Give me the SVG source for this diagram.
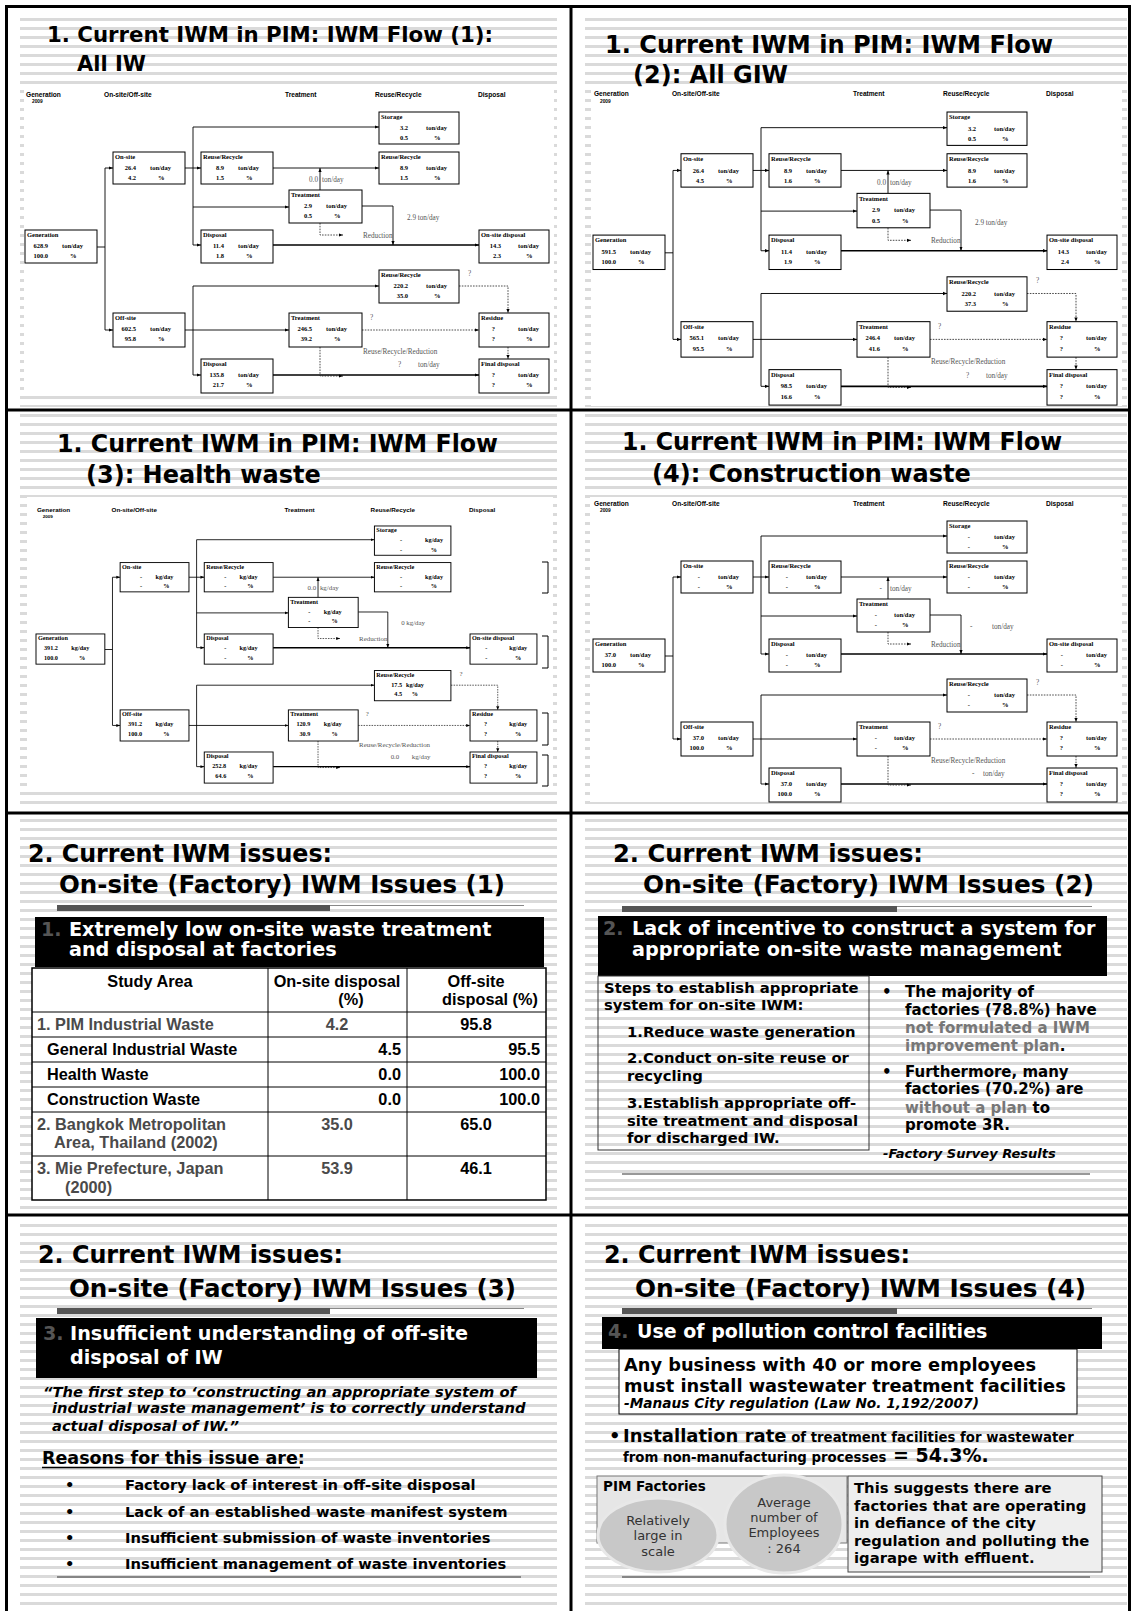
<svg xmlns="http://www.w3.org/2000/svg" width="1131" height="1611" viewBox="0 0 1131 1611">
<defs>
<pattern id="stripes" width="10" height="9" patternUnits="userSpaceOnUse"><rect width="10" height="9" fill="#fff"/><rect width="10" height="3" fill="#dadada"/></pattern>
<marker id="ah" viewBox="0 0 4 4" markerWidth="4" markerHeight="4" refX="4" refY="2" orient="auto" markerUnits="userSpaceOnUse"><path d="M0,0.4 L4,2 L0,3.6z" fill="#000"/></marker>
</defs>
<style>
.bx{fill:#fff;stroke:#000;stroke-width:1}
.c{fill:none;stroke:#000;stroke-width:0.9}
.ck{fill:none;stroke:#000;stroke-width:1.6}
.d{fill:none;stroke:#222;stroke-width:0.8;stroke-dasharray:1.6 1.2}
.a{marker-end:url(#ah)}
.bt{font-family:"Liberation Serif","Times New Roman",serif;font-weight:bold;font-size:6.5px;fill:#000}
.e{text-anchor:end}
.m{text-anchor:middle}
.fl{font-family:"Liberation Serif","Times New Roman",serif;font-size:7.2px;fill:#555}
.hd{font-family:"Liberation Sans",Arial,sans-serif;font-weight:bold;font-size:6.6px;fill:#000}
.yr{font-family:"Liberation Sans",Arial,sans-serif;font-weight:bold;font-size:4.8px}
.t{font-family:"DejaVu Sans",Verdana,sans-serif;font-weight:bold;fill:#000}
.ttl{font-size:24px}
.hb{font-size:19.2px;fill:#fff}
.hn{fill:#555}
.tb{font-family:"Liberation Sans",Arial,sans-serif;font-weight:bold;font-size:16.3px;fill:#000}
.g{fill:#4a4a4a}
.gr{fill:#777}
.it{font-style:italic}
.rg{font-family:"DejaVu Sans",Verdana,sans-serif;font-size:13px;fill:#333}
.bar{fill:#555}
.thin{stroke:#888;stroke-width:1;fill:none}
.bot{stroke:#333;stroke-width:1.2;fill:none}
.tl{fill:none;stroke:#000;stroke-width:1}
</style>
<rect width="1131" height="1611" fill="#fff"/>
<g id="backgrounds">
<rect x="20" y="12" width="537" height="395" fill="url(#stripes)"/>
<rect x="585" y="12" width="542" height="395" fill="url(#stripes)"/>
<rect x="20" y="414" width="537" height="396" fill="url(#stripes)"/>
<rect x="585" y="414" width="542" height="396" fill="url(#stripes)"/>
<rect x="20" y="817" width="537" height="395" fill="url(#stripes)"/>
<rect x="585" y="817" width="542" height="395" fill="url(#stripes)"/>
<rect x="20" y="1219" width="537" height="392" fill="url(#stripes)"/>
<rect x="585" y="1219" width="542" height="392" fill="url(#stripes)"/>
<rect x="24" y="86" width="530" height="309" fill="#fff"/>
<rect x="591" y="88" width="531" height="318" fill="#fff"/>
<rect x="27" y="497" width="526" height="290" fill="#fff"/>
<rect x="590" y="497" width="532" height="305" fill="#fff"/>
</g>

<!-- Slide 1 -->
<g id="slide1">
<text class="t" font-size="21" x="47" y="42" textLength="446" lengthAdjust="spacingAndGlyphs">1. Current IWM in PIM: IWM Flow (1):</text>
<text class="t" font-size="21" x="77" y="71">All IW</text>
<g id="s1-flow">
<text class="hd" x="26" y="97">Generation</text><text class="yr" x="32" y="103">2009</text>
<text class="hd" x="104" y="97">On-site/Off-site</text>
<text class="hd" x="285" y="97">Treatment</text>
<text class="hd" x="375" y="97">Reuse/Recycle</text>
<text class="hd" x="478" y="97">Disposal</text>
<g id="s1-connectors">
<path class="c" d="M97,247H105M105,168V330M193,127V245M193,286V375"/>
<path class="c a" d="M105,168H113"/><path class="c a" d="M105,330H113"/>
<path class="c a" d="M185,168H201"/><path class="c a" d="M193,127H379"/>
<path class="c a" d="M193,207H289"/><path class="c a" d="M193,245H201"/>
<path class="c a" d="M273,168H379"/><path class="c a" d="M320,190V168"/>
<path class="c a" d="M362,206H393V245"/><path class="d a" d="M320,223V235H343"/>
<path class="ck a" d="M273,245H479"/><path class="c a" d="M185,330H289"/>
<path class="c a" d="M193,286H379"/><path class="c a" d="M193,375H201"/>
<path class="ck a" d="M273,375H479"/><path class="d a" d="M459,286H508V313"/>
<path class="d a" d="M362,330H479"/><path class="d a" d="M508,347V359"/>
<path class="d a" d="M320,347V376H343"/>
<text class="fl e" x="318" y="182">0.0</text><text class="fl" x="322" y="182">ton/day</text>
<text class="fl" x="407" y="220">2.9 ton/day</text>
<text class="fl" x="363" y="238">Reduction</text>
<text class="fl" x="468" y="276">?</text>
<text class="fl" x="370" y="320">?</text>
<text class="fl" x="363" y="354">Reuse/Recycle/Reduction</text>
<text class="fl" x="398" y="367">?</text><text class="fl" x="418" y="367">ton/day</text>
</g>
<g id="s1-generation"><rect class="bx" x="25" y="230" width="72" height="33"/><text class="bt" x="27" y="237">Generation</text><text class="bt e" x="48" y="248">628.9</text><text class="bt" x="62" y="248">ton/day</text><text class="bt e" x="48" y="258">100.0</text><text class="bt" x="70" y="258">%</text></g>
<g id="s1-onsite"><rect class="bx" x="113" y="152" width="72" height="32"/><text class="bt" x="115" y="159">On-site</text><text class="bt e" x="136" y="170">26.4</text><text class="bt" x="150" y="170">ton/day</text><text class="bt e" x="136" y="180">4.2</text><text class="bt" x="158" y="180">%</text></g>
<g id="s1-offsite"><rect class="bx" x="113" y="313" width="72" height="34"/><text class="bt" x="115" y="320">Off-site</text><text class="bt e" x="136" y="331">602.5</text><text class="bt" x="150" y="331">ton/day</text><text class="bt e" x="136" y="341">95.8</text><text class="bt" x="158" y="341">%</text></g>
<g id="s1-reuse1"><rect class="bx" x="201" y="152" width="72" height="32"/><text class="bt" x="203" y="159">Reuse/Recycle</text><text class="bt e" x="224" y="170">8.9</text><text class="bt" x="238" y="170">ton/day</text><text class="bt e" x="224" y="180">1.5</text><text class="bt" x="246" y="180">%</text></g>
<g id="s1-disposal1"><rect class="bx" x="201" y="230" width="72" height="33"/><text class="bt" x="203" y="237">Disposal</text><text class="bt e" x="224" y="248">11.4</text><text class="bt" x="238" y="248">ton/day</text><text class="bt e" x="224" y="258">1.8</text><text class="bt" x="246" y="258">%</text></g>
<g id="s1-disposal2"><rect class="bx" x="201" y="359" width="72" height="34"/><text class="bt" x="203" y="366">Disposal</text><text class="bt e" x="224" y="377">135.8</text><text class="bt" x="238" y="377">ton/day</text><text class="bt e" x="224" y="387">21.7</text><text class="bt" x="246" y="387">%</text></g>
<g id="s1-storage"><rect class="bx" x="379" y="112" width="80" height="32"/><text class="bt" x="381" y="119">Storage</text><text class="bt e" x="408" y="130">3.2</text><text class="bt" x="426" y="130">ton/day</text><text class="bt e" x="408" y="140">0.5</text><text class="bt" x="434" y="140">%</text></g>
<g id="s1-reuse2"><rect class="bx" x="379" y="152" width="80" height="32"/><text class="bt" x="381" y="159">Reuse/Recycle</text><text class="bt e" x="408" y="170">8.9</text><text class="bt" x="426" y="170">ton/day</text><text class="bt e" x="408" y="180">1.5</text><text class="bt" x="434" y="180">%</text></g>
<g id="s1-reuse3"><rect class="bx" x="379" y="270" width="80" height="33"/><text class="bt" x="381" y="277">Reuse/Recycle</text><text class="bt e" x="408" y="288">220.2</text><text class="bt" x="426" y="288">ton/day</text><text class="bt e" x="408" y="298">35.0</text><text class="bt" x="434" y="298">%</text></g>
<g id="s1-treatment1"><rect class="bx" x="289" y="190" width="73" height="33"/><text class="bt" x="291" y="197">Treatment</text><text class="bt e" x="312" y="208">2.9</text><text class="bt" x="326" y="208">ton/day</text><text class="bt e" x="312" y="218">0.5</text><text class="bt" x="334" y="218">%</text></g>
<g id="s1-treatment2"><rect class="bx" x="289" y="313" width="73" height="34"/><text class="bt" x="291" y="320">Treatment</text><text class="bt e" x="312" y="331">246.5</text><text class="bt" x="326" y="331">ton/day</text><text class="bt e" x="312" y="341">39.2</text><text class="bt" x="334" y="341">%</text></g>
<g id="s1-onsitedisposal"><rect class="bx" x="479" y="230" width="70" height="33"/><text class="bt" x="481" y="237">On-site disposal</text><text class="bt e" x="501" y="248">14.3</text><text class="bt" x="518" y="248">ton/day</text><text class="bt e" x="501" y="258">2.3</text><text class="bt" x="526" y="258">%</text></g>
<g id="s1-residue"><rect class="bx" x="479" y="313" width="70" height="34"/><text class="bt" x="481" y="320">Residue</text><text class="bt e" x="495" y="331">?</text><text class="bt" x="518" y="331">ton/day</text><text class="bt e" x="495" y="341">?</text><text class="bt" x="526" y="341">%</text></g>
<g id="s1-final"><rect class="bx" x="479" y="359" width="70" height="34"/><text class="bt" x="481" y="366">Final disposal</text><text class="bt e" x="495" y="377">?</text><text class="bt" x="518" y="377">ton/day</text><text class="bt e" x="495" y="387">?</text><text class="bt" x="526" y="387">%</text></g>
</g>
</g>

<!-- Slide 2 -->
<g id="slide2">
<text class="t ttl" x="605" y="53" textLength="448" lengthAdjust="spacingAndGlyphs">1. Current IWM in PIM: IWM Flow</text>
<text class="t ttl" x="633" y="83">(2): All GIW</text>
<g id="s2-flow" transform="matrix(1,0,0,1.043,568,-4.8)">
<text class="hd" x="26" y="97">Generation</text><text class="yr" x="32" y="103">2009</text>
<text class="hd" x="104" y="97">On-site/Off-site</text>
<text class="hd" x="285" y="97">Treatment</text>
<text class="hd" x="375" y="97">Reuse/Recycle</text>
<text class="hd" x="478" y="97">Disposal</text>
<g id="s2-connectors">
<path class="c" d="M97,247H105M105,168V330M193,127V245M193,286V375"/>
<path class="c a" d="M105,168H113"/><path class="c a" d="M105,330H113"/>
<path class="c a" d="M185,168H201"/><path class="c a" d="M193,127H379"/>
<path class="c a" d="M193,207H289"/><path class="c a" d="M193,245H201"/>
<path class="c a" d="M273,168H379"/><path class="c a" d="M320,190V168"/>
<path class="c a" d="M362,206H393V245"/><path class="d a" d="M320,223V235H343"/>
<path class="ck a" d="M273,245H479"/><path class="c a" d="M185,330H289"/>
<path class="c a" d="M193,286H379"/><path class="c a" d="M193,375H201"/>
<path class="ck a" d="M273,375H479"/><path class="d a" d="M459,286H508V313"/>
<path class="d a" d="M362,330H479"/><path class="d a" d="M508,347V359"/>
<path class="d a" d="M320,347V376H343"/>
<text class="fl e" x="318" y="182">0.0</text><text class="fl" x="322" y="182">ton/day</text>
<text class="fl" x="407" y="220">2.9 ton/day</text>
<text class="fl" x="363" y="238">Reduction</text>
<text class="fl" x="468" y="276">?</text>
<text class="fl" x="370" y="320">?</text>
<text class="fl" x="363" y="354">Reuse/Recycle/Reduction</text>
<text class="fl" x="398" y="367">?</text><text class="fl" x="418" y="367">ton/day</text>
</g>
<g id="s2-generation"><rect class="bx" x="25" y="230" width="72" height="33"/><text class="bt" x="27" y="237">Generation</text><text class="bt e" x="48" y="248">591.5</text><text class="bt" x="62" y="248">ton/day</text><text class="bt e" x="48" y="258">100.0</text><text class="bt" x="70" y="258">%</text></g>
<g id="s2-onsite"><rect class="bx" x="113" y="152" width="72" height="32"/><text class="bt" x="115" y="159">On-site</text><text class="bt e" x="136" y="170">26.4</text><text class="bt" x="150" y="170">ton/day</text><text class="bt e" x="136" y="180">4.5</text><text class="bt" x="158" y="180">%</text></g>
<g id="s2-offsite"><rect class="bx" x="113" y="313" width="72" height="34"/><text class="bt" x="115" y="320">Off-site</text><text class="bt e" x="136" y="331">565.1</text><text class="bt" x="150" y="331">ton/day</text><text class="bt e" x="136" y="341">95.5</text><text class="bt" x="158" y="341">%</text></g>
<g id="s2-reuse1"><rect class="bx" x="201" y="152" width="72" height="32"/><text class="bt" x="203" y="159">Reuse/Recycle</text><text class="bt e" x="224" y="170">8.9</text><text class="bt" x="238" y="170">ton/day</text><text class="bt e" x="224" y="180">1.6</text><text class="bt" x="246" y="180">%</text></g>
<g id="s2-disposal1"><rect class="bx" x="201" y="230" width="72" height="33"/><text class="bt" x="203" y="237">Disposal</text><text class="bt e" x="224" y="248">11.4</text><text class="bt" x="238" y="248">ton/day</text><text class="bt e" x="224" y="258">1.9</text><text class="bt" x="246" y="258">%</text></g>
<g id="s2-disposal2"><rect class="bx" x="201" y="359" width="72" height="34"/><text class="bt" x="203" y="366">Disposal</text><text class="bt e" x="224" y="377">98.5</text><text class="bt" x="238" y="377">ton/day</text><text class="bt e" x="224" y="387">16.6</text><text class="bt" x="246" y="387">%</text></g>
<g id="s2-storage"><rect class="bx" x="379" y="112" width="80" height="32"/><text class="bt" x="381" y="119">Storage</text><text class="bt e" x="408" y="130">3.2</text><text class="bt" x="426" y="130">ton/day</text><text class="bt e" x="408" y="140">0.5</text><text class="bt" x="434" y="140">%</text></g>
<g id="s2-reuse2"><rect class="bx" x="379" y="152" width="80" height="32"/><text class="bt" x="381" y="159">Reuse/Recycle</text><text class="bt e" x="408" y="170">8.9</text><text class="bt" x="426" y="170">ton/day</text><text class="bt e" x="408" y="180">1.6</text><text class="bt" x="434" y="180">%</text></g>
<g id="s2-reuse3"><rect class="bx" x="379" y="270" width="80" height="33"/><text class="bt" x="381" y="277">Reuse/Recycle</text><text class="bt e" x="408" y="288">220.2</text><text class="bt" x="426" y="288">ton/day</text><text class="bt e" x="408" y="298">37.3</text><text class="bt" x="434" y="298">%</text></g>
<g id="s2-treatment1"><rect class="bx" x="289" y="190" width="73" height="33"/><text class="bt" x="291" y="197">Treatment</text><text class="bt e" x="312" y="208">2.9</text><text class="bt" x="326" y="208">ton/day</text><text class="bt e" x="312" y="218">0.5</text><text class="bt" x="334" y="218">%</text></g>
<g id="s2-treatment2"><rect class="bx" x="289" y="313" width="73" height="34"/><text class="bt" x="291" y="320">Treatment</text><text class="bt e" x="312" y="331">246.4</text><text class="bt" x="326" y="331">ton/day</text><text class="bt e" x="312" y="341">41.6</text><text class="bt" x="334" y="341">%</text></g>
<g id="s2-onsitedisposal"><rect class="bx" x="479" y="230" width="70" height="33"/><text class="bt" x="481" y="237">On-site disposal</text><text class="bt e" x="501" y="248">14.3</text><text class="bt" x="518" y="248">ton/day</text><text class="bt e" x="501" y="258">2.4</text><text class="bt" x="526" y="258">%</text></g>
<g id="s2-residue"><rect class="bx" x="479" y="313" width="70" height="34"/><text class="bt" x="481" y="320">Residue</text><text class="bt e" x="495" y="331">?</text><text class="bt" x="518" y="331">ton/day</text><text class="bt e" x="495" y="341">?</text><text class="bt" x="526" y="341">%</text></g>
<g id="s2-final"><rect class="bx" x="479" y="359" width="70" height="34"/><text class="bt" x="481" y="366">Final disposal</text><text class="bt e" x="495" y="377">?</text><text class="bt" x="518" y="377">ton/day</text><text class="bt e" x="495" y="387">?</text><text class="bt" x="526" y="387">%</text></g>
</g>
</g>

<!-- Slide 3 -->
<g id="slide3">
<text class="t ttl" x="57" y="452" textLength="441" lengthAdjust="spacingAndGlyphs">1. Current IWM in PIM: IWM Flow</text>
<text class="t ttl" x="86" y="483">(3): Health waste</text>
<g id="s3-flow" transform="matrix(0.956,0,0,0.915,12.1,423.5)">
<text class="hd" x="26" y="97">Generation</text><text class="yr" x="32" y="103">2009</text>
<text class="hd" x="104" y="97">On-site/Off-site</text>
<text class="hd" x="285" y="97">Treatment</text>
<text class="hd" x="375" y="97">Reuse/Recycle</text>
<text class="hd" x="478" y="97">Disposal</text>
<g id="s3-connectors">
<path class="c" d="M97,247H105M105,168V330M193,127V245M193,286V375"/>
<path class="c a" d="M105,168H113"/><path class="c a" d="M105,330H113"/>
<path class="c a" d="M185,168H201"/><path class="c a" d="M193,127H379"/>
<path class="c a" d="M193,207H289"/><path class="c a" d="M193,245H201"/>
<path class="c a" d="M273,168H379"/><path class="c a" d="M320,190V168"/>
<path class="c a" d="M362,206H393V245"/><path class="d a" d="M320,223V235H343"/>
<path class="ck a" d="M273,245H479"/><path class="c a" d="M185,330H289"/>
<path class="c a" d="M193,286H379"/><path class="c a" d="M193,375H201"/>
<path class="ck a" d="M273,375H479"/><path class="d a" d="M459,286H508V313"/>
<path class="d a" d="M362,330H479"/><path class="d a" d="M508,347V359"/>
<path class="d a" d="M320,347V376H343"/>
<text class="fl e" x="318" y="182">0.0</text><text class="fl" x="322" y="182">kg/day</text>
<text class="fl" x="407" y="220">0 kg/day</text>
<text class="fl" x="363" y="238">Reduction</text>
<text class="fl" x="468" y="276">?</text>
<text class="fl" x="370" y="320">?</text>
<text class="fl" x="363" y="354">Reuse/Recycle/Reduction</text>
<text class="fl" x="396" y="367">0.0</text><text class="fl" x="418" y="367">kg/day</text>
</g>
<g id="s3-generation"><rect class="bx" x="25" y="230" width="72" height="33"/><text class="bt" x="27" y="237">Generation</text><text class="bt e" x="48" y="248">391.2</text><text class="bt" x="62" y="248">kg/day</text><text class="bt e" x="48" y="258">100.0</text><text class="bt" x="70" y="258">%</text></g>
<g id="s3-onsite"><rect class="bx" x="113" y="152" width="72" height="32"/><text class="bt" x="115" y="159">On-site</text><text class="bt e" x="136" y="170">-</text><text class="bt" x="150" y="170">kg/day</text><text class="bt e" x="136" y="180">-</text><text class="bt" x="158" y="180">%</text></g>
<g id="s3-offsite"><rect class="bx" x="113" y="313" width="72" height="34"/><text class="bt" x="115" y="320">Off-site</text><text class="bt e" x="136" y="331">391.2</text><text class="bt" x="150" y="331">kg/day</text><text class="bt e" x="136" y="341">100.0</text><text class="bt" x="158" y="341">%</text></g>
<g id="s3-reuse1"><rect class="bx" x="201" y="152" width="72" height="32"/><text class="bt" x="203" y="159">Reuse/Recycle</text><text class="bt e" x="224" y="170">-</text><text class="bt" x="238" y="170">kg/day</text><text class="bt e" x="224" y="180">-</text><text class="bt" x="246" y="180">%</text></g>
<g id="s3-disposal1"><rect class="bx" x="201" y="230" width="72" height="33"/><text class="bt" x="203" y="237">Disposal</text><text class="bt e" x="224" y="248">-</text><text class="bt" x="238" y="248">kg/day</text><text class="bt e" x="224" y="258">-</text><text class="bt" x="246" y="258">%</text></g>
<g id="s3-disposal2"><rect class="bx" x="201" y="359" width="72" height="34"/><text class="bt" x="203" y="366">Disposal</text><text class="bt e" x="224" y="377">252.8</text><text class="bt" x="238" y="377">kg/day</text><text class="bt e" x="224" y="387">64.6</text><text class="bt" x="246" y="387">%</text></g>
<g id="s3-storage"><rect class="bx" x="379" y="112" width="80" height="32"/><text class="bt" x="381" y="119">Storage</text><text class="bt e" x="408" y="130">-</text><text class="bt" x="432" y="130">kg/day</text><text class="bt e" x="408" y="140">-</text><text class="bt" x="438" y="140">%</text></g>
<g id="s3-reuse2"><rect class="bx" x="379" y="152" width="80" height="32"/><text class="bt" x="381" y="159">Reuse/Recycle</text><text class="bt e" x="408" y="170">-</text><text class="bt" x="432" y="170">kg/day</text><text class="bt e" x="408" y="180">-</text><text class="bt" x="438" y="180">%</text></g>
<g id="s3-reuse3"><rect class="bx" x="379" y="270" width="80" height="33"/><text class="bt" x="381" y="277">Reuse/Recycle</text><text class="bt e" x="408" y="288">17.5</text><text class="bt" x="412" y="288">kg/day</text><text class="bt e" x="408" y="298">4.5</text><text class="bt" x="418" y="298">%</text></g>
<g id="s3-treatment1"><rect class="bx" x="289" y="190" width="73" height="33"/><text class="bt" x="291" y="197">Treatment</text><text class="bt e" x="312" y="208">-</text><text class="bt" x="326" y="208">kg/day</text><text class="bt e" x="312" y="218">-</text><text class="bt" x="334" y="218">%</text></g>
<g id="s3-treatment2"><rect class="bx" x="289" y="313" width="73" height="34"/><text class="bt" x="291" y="320">Treatment</text><text class="bt e" x="312" y="331">120.9</text><text class="bt" x="326" y="331">kg/day</text><text class="bt e" x="312" y="341">30.9</text><text class="bt" x="334" y="341">%</text></g>
<g id="s3-onsitedisposal"><rect class="bx" x="479" y="230" width="70" height="33"/><text class="bt" x="481" y="237">On-site disposal</text><text class="bt e" x="497" y="248">-</text><text class="bt" x="520" y="248">kg/day</text><text class="bt e" x="497" y="258">-</text><text class="bt" x="526" y="258">%</text></g>
<g id="s3-residue"><rect class="bx" x="479" y="313" width="70" height="34"/><text class="bt" x="481" y="320">Residue</text><text class="bt e" x="497" y="331">?</text><text class="bt" x="520" y="331">kg/day</text><text class="bt e" x="497" y="341">?</text><text class="bt" x="526" y="341">%</text></g>
<g id="s3-final"><rect class="bx" x="479" y="359" width="70" height="34"/><text class="bt" x="481" y="366">Final disposal</text><text class="bt e" x="497" y="377">?</text><text class="bt" x="520" y="377">kg/day</text><text class="bt e" x="497" y="387">?</text><text class="bt" x="526" y="387">%</text></g>
</g>
<path class="tl" d="M542,562H548V593H542M542,636H548V668H542M542,713H548V745H542M542,755H548V786H542"/>
</g>

<!-- Slide 4 -->
<g id="slide4">
<text class="t ttl" x="622" y="450" textLength="440" lengthAdjust="spacingAndGlyphs">1. Current IWM in PIM: IWM Flow</text>
<text class="t ttl" x="652" y="482">(4): Construction waste</text>
<g id="s4-flow" transform="translate(568,409)">
<text class="hd" x="26" y="97">Generation</text><text class="yr" x="32" y="103">2009</text>
<text class="hd" x="104" y="97">On-site/Off-site</text>
<text class="hd" x="285" y="97">Treatment</text>
<text class="hd" x="375" y="97">Reuse/Recycle</text>
<text class="hd" x="478" y="97">Disposal</text>
<g id="s4-connectors">
<path class="c" d="M97,247H105M105,168V330M193,127V245M193,286V375"/>
<path class="c a" d="M105,168H113"/><path class="c a" d="M105,330H113"/>
<path class="c a" d="M185,168H201"/><path class="c a" d="M193,127H379"/>
<path class="c a" d="M193,207H289"/><path class="c a" d="M193,245H201"/>
<path class="c a" d="M273,168H379"/><path class="c a" d="M320,190V168"/>
<path class="c a" d="M362,206H393V245"/><path class="d a" d="M320,223V235H343"/>
<path class="ck a" d="M273,245H479"/><path class="c a" d="M185,330H289"/>
<path class="c a" d="M193,286H379"/><path class="c a" d="M193,375H201"/>
<path class="ck a" d="M273,375H479"/><path class="d a" d="M459,286H508V313"/>
<path class="d a" d="M362,330H479"/><path class="d a" d="M508,347V359"/>
<path class="d a" d="M320,347V376H343"/>
<text class="fl e" x="314" y="182">-</text><text class="fl" x="322" y="182">ton/day</text>
<text class="fl" x="402" y="220">-</text><text class="fl" x="424" y="220">ton/day</text>
<text class="fl" x="363" y="238">Reduction</text>
<text class="fl" x="468" y="276">?</text>
<text class="fl" x="370" y="320">?</text>
<text class="fl" x="363" y="354">Reuse/Recycle/Reduction</text>
<text class="fl" x="404" y="367">-</text><text class="fl" x="415" y="367">ton/day</text>
</g>
<g id="s4-generation"><rect class="bx" x="25" y="230" width="72" height="33"/><text class="bt" x="27" y="237">Generation</text><text class="bt e" x="48" y="248">37.0</text><text class="bt" x="62" y="248">ton/day</text><text class="bt e" x="48" y="258">100.0</text><text class="bt" x="70" y="258">%</text></g>
<g id="s4-onsite"><rect class="bx" x="113" y="152" width="72" height="32"/><text class="bt" x="115" y="159">On-site</text><text class="bt e" x="132" y="170">-</text><text class="bt" x="150" y="170">ton/day</text><text class="bt e" x="132" y="180">-</text><text class="bt" x="158" y="180">%</text></g>
<g id="s4-offsite"><rect class="bx" x="113" y="313" width="72" height="34"/><text class="bt" x="115" y="320">Off-site</text><text class="bt e" x="136" y="331">37.0</text><text class="bt" x="150" y="331">ton/day</text><text class="bt e" x="136" y="341">100.0</text><text class="bt" x="158" y="341">%</text></g>
<g id="s4-reuse1"><rect class="bx" x="201" y="152" width="72" height="32"/><text class="bt" x="203" y="159">Reuse/Recycle</text><text class="bt e" x="220" y="170">-</text><text class="bt" x="238" y="170">ton/day</text><text class="bt e" x="220" y="180">-</text><text class="bt" x="246" y="180">%</text></g>
<g id="s4-disposal1"><rect class="bx" x="201" y="230" width="72" height="33"/><text class="bt" x="203" y="237">Disposal</text><text class="bt e" x="220" y="248">-</text><text class="bt" x="238" y="248">ton/day</text><text class="bt e" x="220" y="258">-</text><text class="bt" x="246" y="258">%</text></g>
<g id="s4-disposal2"><rect class="bx" x="201" y="359" width="72" height="34"/><text class="bt" x="203" y="366">Disposal</text><text class="bt e" x="224" y="377">37.0</text><text class="bt" x="238" y="377">ton/day</text><text class="bt e" x="224" y="387">100.0</text><text class="bt" x="246" y="387">%</text></g>
<g id="s4-storage"><rect class="bx" x="379" y="112" width="80" height="32"/><text class="bt" x="381" y="119">Storage</text><text class="bt e" x="402" y="130">-</text><text class="bt" x="426" y="130">ton/day</text><text class="bt e" x="402" y="140">-</text><text class="bt" x="434" y="140">%</text></g>
<g id="s4-reuse2"><rect class="bx" x="379" y="152" width="80" height="32"/><text class="bt" x="381" y="159">Reuse/Recycle</text><text class="bt e" x="402" y="170">-</text><text class="bt" x="426" y="170">ton/day</text><text class="bt e" x="402" y="180">-</text><text class="bt" x="434" y="180">%</text></g>
<g id="s4-reuse3"><rect class="bx" x="379" y="270" width="80" height="33"/><text class="bt" x="381" y="277">Reuse/Recycle</text><text class="bt e" x="402" y="288">-</text><text class="bt" x="426" y="288">ton/day</text><text class="bt e" x="402" y="298">-</text><text class="bt" x="434" y="298">%</text></g>
<g id="s4-treatment1"><rect class="bx" x="289" y="190" width="73" height="33"/><text class="bt" x="291" y="197">Treatment</text><text class="bt e" x="309" y="208">-</text><text class="bt" x="326" y="208">ton/day</text><text class="bt e" x="309" y="218">-</text><text class="bt" x="334" y="218">%</text></g>
<g id="s4-treatment2"><rect class="bx" x="289" y="313" width="73" height="34"/><text class="bt" x="291" y="320">Treatment</text><text class="bt e" x="309" y="331">-</text><text class="bt" x="326" y="331">ton/day</text><text class="bt e" x="309" y="341">-</text><text class="bt" x="334" y="341">%</text></g>
<g id="s4-onsitedisposal"><rect class="bx" x="479" y="230" width="70" height="33"/><text class="bt" x="481" y="237">On-site disposal</text><text class="bt e" x="495" y="248">-</text><text class="bt" x="518" y="248">ton/day</text><text class="bt e" x="495" y="258">-</text><text class="bt" x="526" y="258">%</text></g>
<g id="s4-residue"><rect class="bx" x="479" y="313" width="70" height="34"/><text class="bt" x="481" y="320">Residue</text><text class="bt e" x="495" y="331">?</text><text class="bt" x="518" y="331">ton/day</text><text class="bt e" x="495" y="341">?</text><text class="bt" x="526" y="341">%</text></g>
<g id="s4-final"><rect class="bx" x="479" y="359" width="70" height="34"/><text class="bt" x="481" y="366">Final disposal</text><text class="bt e" x="495" y="377">?</text><text class="bt" x="518" y="377">ton/day</text><text class="bt e" x="495" y="387">?</text><text class="bt" x="526" y="387">%</text></g>
</g>
</g>

<!-- Slide 5 -->
<g id="slide5">
<text class="t ttl" x="28" y="862" textLength="304" lengthAdjust="spacingAndGlyphs">2. Current IWM issues:</text>
<text class="t ttl" x="59" y="893" textLength="446" lengthAdjust="spacingAndGlyphs">On-site (Factory) IWM Issues (1)</text>
<rect class="bar" x="57" y="905" width="273" height="6"/><path class="thin" d="M330,905.5H524"/>
<g id="s5-header"><rect x="35" y="917" width="509" height="50" fill="#000"/>
<text class="t hb hn" x="41" y="936">1.</text>
<text class="t hb" x="69" y="936">Extremely low on-site waste treatment</text>
<text class="t hb" x="69" y="956">and disposal at factories</text></g>
<g id="s5-table">
<rect x="32" y="968" width="514" height="232" fill="#fff" stroke="#000" stroke-width="1.5"/>
<path class="tl" d="M268,968V1200M407,968V1200M32,1012H546M32,1037H546M32,1062H546M32,1087H546M32,1112H546M32,1156H546"/>
<text class="tb m" x="150" y="987">Study Area</text>
<text class="tb m" x="337" y="987">On-site disposal</text><text class="tb m" x="351" y="1005">(%)</text>
<text class="tb m" x="476" y="987">Off-site</text><text class="tb m" x="490" y="1005">disposal (%)</text>
<text class="tb g" x="37" y="1030">1. PIM Industrial Waste</text><text class="tb g m" x="337" y="1030">4.2</text><text class="tb m" x="476" y="1030">95.8</text>
<text class="tb" x="47" y="1055">General Industrial Waste</text><text class="tb e" x="401" y="1055">4.5</text><text class="tb e" x="540" y="1055">95.5</text>
<text class="tb" x="47" y="1080">Health Waste</text><text class="tb e" x="401" y="1080">0.0</text><text class="tb e" x="540" y="1080">100.0</text>
<text class="tb" x="47" y="1105">Construction Waste</text><text class="tb e" x="401" y="1105">0.0</text><text class="tb e" x="540" y="1105">100.0</text>
<text class="tb g" x="37" y="1130">2. Bangkok Metropolitan</text><text class="tb g" x="54" y="1148">Area, Thailand (2002)</text><text class="tb g m" x="337" y="1130">35.0</text><text class="tb m" x="476" y="1130">65.0</text>
<text class="tb g" x="37" y="1174">3. Mie Prefecture, Japan</text><text class="tb g" x="65" y="1193">(2000)</text><text class="tb g m" x="337" y="1174">53.9</text><text class="tb m" x="476" y="1174">46.1</text>
</g>
</g>

<!-- Slide 6 -->
<g id="slide6">
<text class="t ttl" x="613" y="862" textLength="310" lengthAdjust="spacingAndGlyphs">2. Current IWM issues:</text>
<text class="t ttl" x="643" y="893" textLength="451" lengthAdjust="spacingAndGlyphs">On-site (Factory) IWM Issues (2)</text>
<rect class="bar" x="622" y="906" width="275" height="6"/><path class="thin" d="M897,906.5H1092"/>
<g id="s6-header"><rect x="598" y="916" width="509" height="60" fill="#000"/>
<text class="t hb hn" x="603" y="935">2.</text>
<text class="t hb" x="632" y="935">Lack of incentive to construct a system for</text>
<text class="t hb" x="632" y="956">appropriate on-site waste management</text></g>
<g id="s6-steps"><rect x="598" y="976" width="271" height="174" fill="none" stroke="#333" stroke-width="1"/>
<text class="t" font-size="14.8" x="604" y="993">Steps to establish appropriate</text>
<text class="t" font-size="14.8" x="604" y="1010">system for on-site IWM:</text>
<text class="t" font-size="14.8" x="627" y="1037">1.Reduce waste generation</text>
<text class="t" font-size="14.8" x="627" y="1063">2.Conduct on-site reuse or</text>
<text class="t" font-size="14.8" x="627" y="1081">recycling</text>
<text class="t" font-size="14.8" x="627" y="1108">3.Establish appropriate off-</text>
<text class="t" font-size="14.8" x="627" y="1126">site treatment and disposal</text>
<text class="t" font-size="14.8" x="627" y="1143">for discharged IW.</text></g>
<g id="s6-results">
<text class="t" font-size="15" x="882" y="997">•</text><text class="t" font-size="15" x="905" y="997">The majority of</text>
<text class="t" font-size="15" x="905" y="1015">factories (78.8%) have</text>
<text class="t gr" font-size="15" x="905" y="1033">not formulated a IWM</text>
<text class="t" font-size="15" x="905" y="1051"><tspan class="gr">improvement plan</tspan>.</text>
<text class="t" font-size="15" x="882" y="1077">•</text><text class="t" font-size="15" x="905" y="1077">Furthermore, many</text>
<text class="t" font-size="15" x="905" y="1094">factories (70.2%) are</text>
<text class="t" font-size="15" x="905" y="1113"><tspan class="gr">without a plan</tspan> to</text>
<text class="t" font-size="15" x="905" y="1130">promote 3R.</text>
<text class="t it" font-size="13" x="883" y="1158">-Factory Survey Results</text></g>
<path class="bot" d="M622,1174H1090"/>
</g>

<!-- Slide 7 -->
<g id="slide7">
<text class="t ttl" x="38" y="1263" textLength="305" lengthAdjust="spacingAndGlyphs">2. Current IWM issues:</text>
<text class="t ttl" x="69" y="1297" textLength="447" lengthAdjust="spacingAndGlyphs">On-site (Factory) IWM Issues (3)</text>
<rect class="bar" x="57" y="1308" width="273" height="6"/><path class="thin" d="M330,1308.5H524"/>
<g id="s7-header"><rect x="36" y="1318" width="501" height="60" fill="#000"/>
<text class="t hb hn" x="43" y="1340">3.</text>
<text class="t hb" x="70" y="1340">Insufficient understanding of off-site</text>
<text class="t hb" x="70" y="1364">disposal of IW</text></g>
<g id="s7-quote">
<text class="t it" font-size="14.7" x="43" y="1397">“The first step to ‘constructing an appropriate system of</text>
<text class="t it" font-size="14.7" x="52" y="1413">industrial waste management’ is to correctly understand</text>
<text class="t it" font-size="14.7" x="52" y="1431">actual disposal of IW.”</text></g>
<g id="s7-reasons">
<text class="t" font-size="17.5" x="42" y="1464">Reasons for this issue are:</text>
<path d="M42,1467.5H300" stroke="#000" stroke-width="1.4"/>
<text class="t" font-size="14.7" x="65" y="1490">•</text><text class="t" font-size="14.7" x="125" y="1490">Factory lack of interest in off-site disposal</text>
<text class="t" font-size="14.7" x="65" y="1517">•</text><text class="t" font-size="14.7" x="125" y="1517">Lack of an established waste manifest system</text>
<text class="t" font-size="14.7" x="65" y="1543">•</text><text class="t" font-size="14.7" x="125" y="1543">Insufficient submission of waste inventories</text>
<text class="t" font-size="14.7" x="65" y="1569">•</text><text class="t" font-size="14.7" x="125" y="1569">Insufficient management of waste inventories</text></g>
<path class="bot" d="M57,1577H521"/>
</g>

<!-- Slide 8 -->
<g id="slide8">
<text class="t ttl" x="604" y="1263" textLength="306" lengthAdjust="spacingAndGlyphs">2. Current IWM issues:</text>
<text class="t ttl" x="635" y="1297" textLength="451" lengthAdjust="spacingAndGlyphs">On-site (Factory) IWM Issues (4)</text>
<rect class="bar" x="622" y="1308" width="275" height="6"/><path class="thin" d="M897,1308.5H1092"/>
<g id="s8-header"><rect x="602" y="1317" width="500" height="32" fill="#000"/>
<text class="t hn" font-size="19" x="608" y="1338">4.</text>
<text class="t" font-size="19" fill="#fff" style="fill:#fff" x="637" y="1338">Use of pollution control facilities</text></g>
<g id="s8-regulation"><rect x="619" y="1349" width="458" height="65" fill="#fff" stroke="#000" stroke-width="1"/>
<text class="t" font-size="17.8" x="624" y="1371">Any business with 40 or more employees</text>
<text class="t" font-size="17.8" x="624" y="1392">must install wastewater treatment facilities</text>
<text class="t it" font-size="13.7" x="624" y="1408">-Manaus City regulation (Law No. 1,192/2007)</text></g>
<g id="s8-rate">
<text class="t" font-size="18" x="609" y="1442">•</text>
<text class="t" font-size="18" x="623" y="1442">Installation rate<tspan font-size="13.3"> of treatment facilities for wastewater</tspan></text>
<text class="t" font-size="13.3" x="623" y="1462">from non-manufacturing processes<tspan font-size="19"> = 54.3%.</tspan></text></g>
<g id="s8-factories">
<rect x="597" y="1476" width="250" height="67" fill="#e6e6e6" stroke="#777" stroke-width="1"/>
<text class="t" font-size="13.5" x="603" y="1491">PIM Factories</text>
<ellipse cx="658" cy="1535" rx="60" ry="37" fill="#c8c8c8" stroke="#e8e8e8" stroke-width="3"/>
<ellipse cx="784" cy="1524" rx="59" ry="49" fill="#c8c8c8" stroke="#e8e8e8" stroke-width="3"/>
<text class="rg m" x="658" y="1525">Relatively</text><text class="rg m" x="658" y="1540">large in</text><text class="rg m" x="658" y="1556">scale</text>
<text class="rg m" x="784" y="1507">Average</text><text class="rg m" x="784" y="1522">number of</text><text class="rg m" x="784" y="1537">Employees</text><text class="rg m" x="784" y="1553">: 264</text></g>
<g id="s8-suggests"><rect x="848" y="1476" width="254" height="96" fill="#eeeeee" stroke="#444" stroke-width="1"/>
<text class="t" font-size="14.8" x="854" y="1493">This suggests there are</text>
<text class="t" font-size="14.8" x="854" y="1511">factories that are operating</text>
<text class="t" font-size="14.8" x="854" y="1528">in defiance of the city</text>
<text class="t" font-size="14.8" x="854" y="1546">regulation and polluting the</text>
<text class="t" font-size="14.8" x="854" y="1563">igarape with effluent.</text></g>
<path class="bot" d="M622,1577H1090"/>
</g>

<g id="borders" fill="none" stroke="#000" stroke-width="3">
<path d="M5,6.5H1130M6.5,5V1611M571,5V1611M1129.5,5V1611M5,410H1130M5,813H1130M5,1215H1130"/>
</g>
</svg>
